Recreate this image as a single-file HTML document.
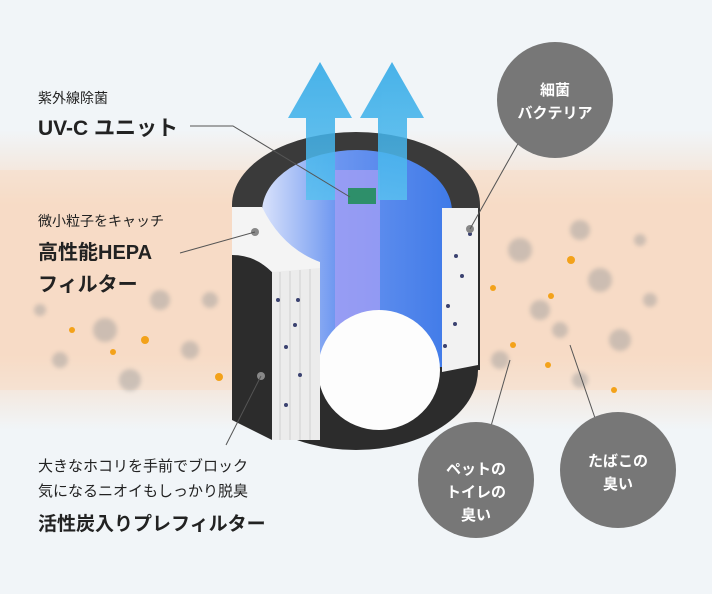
<!DOCTYPE html>
<html><head><meta charset="utf-8"><style>
body{margin:0;width:712px;height:594px;overflow:hidden;background:#f1f5f8;font-family:"Liberation Sans","Noto Sans CJK JP",sans-serif;color:#222}
.t{position:absolute;left:38px;white-space:nowrap}
</style></head><body>
<svg width="712" height="594" style="position:absolute;left:0;top:0">
<defs>
<linearGradient id="band" x1="0" y1="0" x2="0" y2="1">
<stop offset="0" stop-color="#f6dcc6" stop-opacity="0"/>
<stop offset="0.25" stop-color="#f7d8c0" stop-opacity="0.9"/>
<stop offset="0.75" stop-color="#f7d8c0" stop-opacity="0.9"/>
<stop offset="1" stop-color="#f6dcc6" stop-opacity="0"/>
</linearGradient>
<linearGradient id="arr" x1="0" y1="0" x2="0" y2="1">
<stop offset="0" stop-color="#2aa6e6"/><stop offset="1" stop-color="#59c0f0"/>
</linearGradient>
<linearGradient id="inner" x1="0" y1="0" x2="1" y2="0">
<stop offset="0" stop-color="#d9e2fb"/><stop offset="0.4" stop-color="#6b95f0"/><stop offset="1" stop-color="#3f7ae8"/>
</linearGradient>
<filter id="bl"><feGaussianBlur stdDeviation="2"/></filter>
</defs>
<rect x="0" y="130" width="712" height="300" fill="url(#band)"/>
<rect x="0" y="170" width="712" height="220" fill="#f8dcc6" opacity="0.5"/>
<g fill="#9a9a9a" opacity="0.45" filter="url(#bl)">
<circle cx="105" cy="330" r="12"/><circle cx="160" cy="300" r="10"/><circle cx="130" cy="380" r="11"/><circle cx="60" cy="360" r="8"/><circle cx="190" cy="350" r="9"/><circle cx="210" cy="300" r="8"/><circle cx="40" cy="310" r="6"/>
<circle cx="520" cy="250" r="12"/><circle cx="580" cy="230" r="10"/><circle cx="600" cy="280" r="12"/><circle cx="540" cy="310" r="10"/><circle cx="620" cy="340" r="11"/><circle cx="500" cy="360" r="9"/><circle cx="580" cy="380" r="8"/><circle cx="650" cy="300" r="7"/><circle cx="640" cy="240" r="6"/><circle cx="560" cy="330" r="8"/>
</g>
<g fill="#f3a21a">
<circle cx="72" cy="330" r="3"/><circle cx="113" cy="352" r="3"/><circle cx="145" cy="340" r="4"/><circle cx="219" cy="377" r="4"/><circle cx="571" cy="260" r="4"/><circle cx="551" cy="296" r="3"/><circle cx="493" cy="288" r="3"/><circle cx="548" cy="365" r="3"/><circle cx="513" cy="345" r="3"/><circle cx="614" cy="390" r="3"/>
</g>
<ellipse cx="356" cy="370" rx="122" ry="80" fill="#2c2c2c"/>
<rect x="232" y="205" width="248" height="165" fill="#2c2c2c"/>
<ellipse cx="356" cy="205" rx="124" ry="73" fill="#3a3a3a"/>
<ellipse cx="357" cy="212" rx="95" ry="62" fill="url(#inner)"/>
<rect x="262" y="212" width="190" height="155" fill="url(#inner)"/>
<rect x="335" y="170" width="45" height="190" fill="#a9a0f5" opacity="0.7"/>
<ellipse cx="379" cy="370" rx="61" ry="60" fill="#fdfdfd"/>
<rect x="348" y="188" width="28" height="16" fill="#2e8f6a"/>
<polygon points="442,208 478,208 478,365 442,372" fill="#f2f2f2"/>
<g fill="#3b4270"><circle cx="470" cy="234" r="2"/><circle cx="456" cy="256" r="2"/><circle cx="462" cy="276" r="2"/><circle cx="448" cy="306" r="2"/><circle cx="455" cy="324" r="2"/><circle cx="445" cy="346" r="2"/></g>
<circle cx="470" cy="229" r="4" fill="#888"/>
<path d="M232,255 Q255,255 272,272 L272,440 L232,420 Z" fill="#2c2c2c"/>
<path d="M232,207 L262,207 Q282,248 320,262 L320,272 L272,272 Q255,255 232,255 Z" fill="#f4f4f4"/>
<path d="M272,272 L320,268 L320,440 L272,440 Z" fill="#ececec"/>
<g stroke="#d0d0d0" stroke-width="1"><line x1="280" y1="272" x2="280" y2="440"/><line x1="290" y1="271" x2="290" y2="440"/><line x1="300" y1="270" x2="300" y2="440"/><line x1="310" y1="269" x2="310" y2="440"/></g>
<g fill="#3b4270"><circle cx="278" cy="300" r="2"/><circle cx="298" cy="300" r="2"/><circle cx="295" cy="325" r="2"/><circle cx="286" cy="347" r="2"/><circle cx="300" cy="375" r="2"/><circle cx="286" cy="405" r="2"/></g>
<circle cx="255" cy="232" r="4" fill="#888"/>
<circle cx="261" cy="376" r="4" fill="#888"/>
<g fill="url(#arr)" opacity="0.85">
<polygon points="320,62 352,118 335,118 335,200 306,200 306,118 288,118"/>
<polygon points="392,62 424,118 407,118 407,200 378,200 378,118 360,118"/>
</g>
<g stroke="#555" stroke-width="1" fill="none">
<polyline points="190,126 233,126 350,197"/>
<line x1="180" y1="253" x2="255" y2="232"/>
<line x1="226" y1="445" x2="261" y2="376"/>
<line x1="470" y1="229" x2="520" y2="140"/>
<line x1="510" y1="360" x2="487" y2="440"/>
<line x1="570" y1="345" x2="595" y2="418"/>
</g>
<circle cx="555" cy="100" r="58" fill="#777"/>
<circle cx="476" cy="480" r="58" fill="#777"/>
<circle cx="618" cy="470" r="58" fill="#777"/>
<g fill="#fff" font-size="15" font-weight="bold" text-anchor="middle" font-family="Liberation Sans, Noto Sans CJK JP, sans-serif">
<text x="555" y="95">細菌</text><text x="555" y="118">バクテリア</text>
<text x="476" y="474">ペットの</text><text x="476" y="497">トイレの</text><text x="476" y="520">臭い</text>
<text x="618" y="466">たばこの</text><text x="618" y="489">臭い</text>
</g>
</svg>
<div class="t" style="top:88px;font-size:14px">紫外線除菌</div>
<div class="t" style="top:112px;font-size:21px;font-weight:bold">UV-C ユニット</div>
<div class="t" style="top:211px;font-size:14px">微小粒子をキャッチ</div>
<div class="t" style="top:236px;font-size:20px;font-weight:bold">高性能HEPA</div>
<div class="t" style="top:268px;font-size:20px;font-weight:bold">フィルター</div>
<div class="t" style="top:455px;font-size:15px">大きなホコリを手前でブロック</div>
<div class="t" style="top:480px;font-size:15px">気になるニオイもしっかり脱臭</div>
<div class="t" style="top:509px;font-size:19px;font-weight:bold">活性炭入りプレフィルター</div>
</body></html>
